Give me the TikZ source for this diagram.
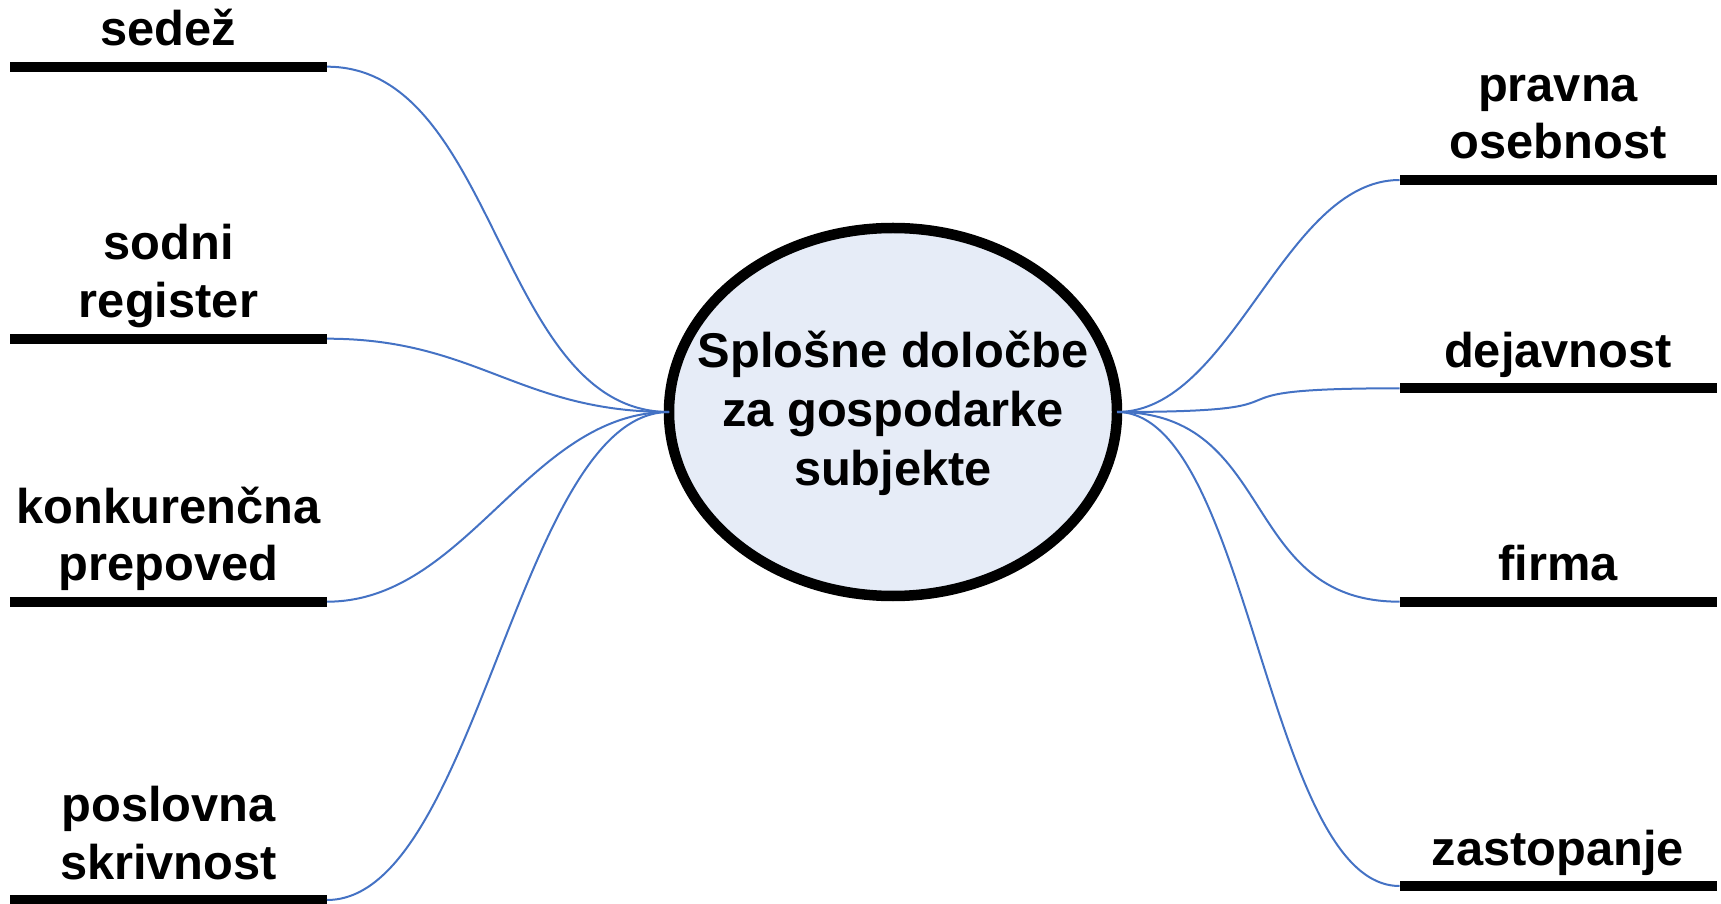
\documentclass[tikz,border=0pt]{standalone}
\usepackage{fontspec}
\setmainfont{Liberation Sans}
\usetikzlibrary{shapes.geometric}
\definecolor{linkblue}{RGB}{68,114,196}
\definecolor{hubfill}{RGB}{230,236,247}
\begin{document}
\begin{tikzpicture}[x=1pt,y=1pt,
  bar/.style={rectangle, fill=black, draw=none, minimum width=317pt, minimum height=10pt, inner sep=0pt, outer sep=0pt},
  lbl/.style={font=\bfseries\fontsize{48.8}{57.7}\selectfont, align=center, inner sep=0pt, outer sep=0pt, text depth=0pt, anchor=south},
  hubtext/.style={font=\bfseries\fontsize{48.8}{59}\selectfont, align=center, inner sep=0pt},
  link/.style={draw=linkblue, line width=2pt},
  hub/.style={ellipse, draw=black, line width=10.5pt, fill=hubfill, minimum width=448pt, minimum height=368pt, inner sep=0pt, outer sep=0pt}]
\useasboundingbox (0,0) rectangle (1721,903);

% central ellipse
\node[hub] (hub) at (893,491) {};
\node[hubtext] (hubt) at (893,490) {Splošne določbe\\za gospodarke\\subjekte};

% left bars
\node[bar] (b1) at (168.5,836.3) {};
\node[bar] (b2) at (168.5,564.3) {};
\node[bar] (b3) at (168.5,301.3) {};
\node[bar] (b4) at (168.5,3) {};
% right bars
\node[bar] (r1) at (1558,723) {};
\node[bar] (r2) at (1558,514.7) {};
\node[bar] (r3) at (1558,301.3) {};
\node[bar] (r4) at (1558,17) {};

% labels
\node[lbl] (t1) at ([yshift=16pt]b1.north) {sedež};
\node[lbl] (t2) at ([yshift=16pt]b2.north) {sodni\\register};
\node[lbl] (t3) at ([yshift=16pt]b3.north) {konkurenčna\\prepoved};
\node[lbl] (t4) at ([yshift=16pt]b4.north) {poslovna\\skrivnost};
\node[lbl] (u1) at ([yshift=16pt]r1.north) {pravna\\osebnost};
\node[lbl] (u2) at ([yshift=16pt]r2.north) {dejavnost};
\node[lbl] (u3) at ([yshift=16pt]r3.north) {firma};
\node[lbl] (u4) at ([yshift=16pt]r4.north) {zastopanje};

% connectors
\draw[link] (hub.west) .. controls +(-171,0) and +(171,0) .. (b1.east);
\draw[link] (hub.west) .. controls +(-150,0) and +(150,0) .. (b2.east);
\draw[link] (hub.west) .. controls +(-140,0) and +(140,0) .. (b3.east);
\draw[link] (hub.west) .. controls +(-150,0) and +(150,0) .. (b4.east);
\draw[link] (hub.east) .. controls +(116,0) and +(-116,0) .. (r1.west);
\draw[link] (hub.east) .. controls +(225,0) and +(-225,0) .. (r2.west);
\draw[link] (hub.east) .. controls +(161,0) and +(-161,0) .. (r3.west);
\draw[link] (hub.east) .. controls +(133,0) and +(-133,0) .. (r4.west);
\end{tikzpicture}
\end{document}
